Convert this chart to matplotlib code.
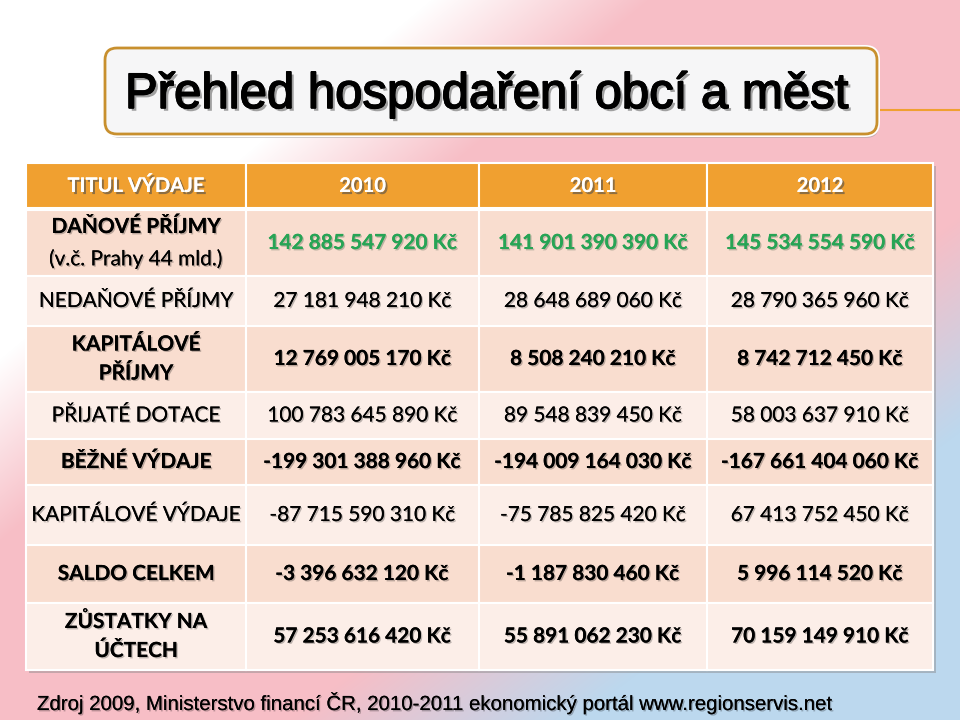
import numpy as np
import matplotlib.pyplot as plt
import matplotlib.patheffects as pe
from matplotlib.patches import Rectangle, FancyBboxPatch, PathPatch
from matplotlib.textpath import TextPath
from matplotlib.font_manager import FontProperties
from matplotlib.transforms import Affine2D

# data
title = 'Přehled hospodaření obcí a měst'
header_label = 'TITUL VÝDAJE'
years = ['2010', '2011', '2012']
row_labels = [
    ['DAŇOVÉ PŘÍJMY', '(v.č. Prahy 44 mld.)'],
    ['NEDAŇOVÉ PŘÍJMY'],
    ['KAPITÁLOVÉ', 'PŘÍJMY'],
    ['PŘIJATÉ DOTACE'],
    ['BĚŽNÉ VÝDAJE'],
    ['KAPITÁLOVÉ VÝDAJE'],
    ['SALDO CELKEM'],
    ['ZŮSTATKY NA', 'ÚČTECH'],
]
values_2010 = [142885547920, 27181948210, 12769005170, 100783645890,
               -199301388960, -87715590310, -3396632120, 57253616420]
values_2011 = [141901390390, 28648689060, 8508240210, 89548839450,
               -194009164030, -75785825420, -1187830460, 55891062230]
values_2012 = [145534554590, 28790365960, 8742712450, 58003637910,
               -167661404060, 67413752450, 5996114520, 70159149910]
source = 'Zdroj 2009, Ministerstvo financí ČR, 2010-2011 ekonomický portál www.regionservis.net'

# styles
bold_rows = [True, False, True, False, True, False, True, True]
label_bold_lines = [[True, False], [False], [True, True], [False], [True], [False], [True], [True, True]]
line_gap = [32, 29, 29, 29, 29, 29, 29, 29]
green_rows = [True, False, False, False, False, False, False, False]
row_edges = [210, 276, 326, 392, 439, 485, 545, 603, 670]
col_edges = [26, 246, 479, 707, 933]
dark_row, light_row = '#F9DDCF', '#FCEEE8'
orange = '#F0A030'
green = '#27A455'
table_font = ['Lato', 'DejaVu Sans']


def fmt(v):
    return f'{v:,}'.replace(',', ' ') + ' Kč'


fig = plt.figure(figsize=(9.6, 7.2), dpi=100)
ax = fig.add_axes([0, 0, 1, 1])
ax.set_xlim(0, 960)
ax.set_ylim(720, 0)
ax.axis('off')

# background gradient
yy, xx = np.mgrid[0:720, 0:960]
s = xx + 1.2 * yy
white_w = np.clip((650 - s) / 220, 0, 1)
u, v = xx / 960, yy / 720
blue_w = np.clip((u + v - 1.3) / 0.3, 0, 1)
pink = np.array([247, 190, 198]) / 255
blue = np.array([188, 216, 238]) / 255
base = pink * (1 - blue_w[..., None]) + blue * blue_w[..., None]
img = base * (1 - white_w[..., None]) + white_w[..., None]
ax.imshow(img, extent=[0, 960, 720, 0], zorder=0)

# orange line behind title (right side)
ax.plot([870, 960], [110, 110], color='#F0A030', lw=1.5, zorder=1)

# title box
ax.add_patch(FancyBboxPatch((107, 52), 772, 86, boxstyle='round,pad=0,rounding_size=13',
                            fc='#999999', ec='none', alpha=0.45, zorder=2))
ax.add_patch(FancyBboxPatch((102, 45), 778, 92, boxstyle='round,pad=0,rounding_size=15',
                            fc='white', ec='none', zorder=3))
ax.add_patch(FancyBboxPatch((105, 48), 772, 86, boxstyle='round,pad=0,rounding_size=12',
                            fc='#F6F6F7', ec='#C8902E', lw=2.0, zorder=4))

# title text as a path, fitted to the box text width
tp = TextPath((0, 0), title, size=50, prop=FontProperties(family='Liberation Sans'))
ext = tp.get_extents()
sx = 719 / ext.width
tr = Affine2D().translate(-ext.x0, 0).scale(sx, -1).translate(129, 108) + ax.transData
ax.add_patch(PathPatch(tp, transform=tr, fc='black', ec='black', lw=0.9, zorder=5,
                       path_effects=[pe.withSimplePatchShadow(offset=(2, -2), alpha=0.35), pe.Normal()]))

# table shadow
ax.add_patch(Rectangle((col_edges[0] + 3, 166), col_edges[-1] - col_edges[0], 507,
                       fc='#888888', ec='none', alpha=0.45, zorder=2))

# header
for j in range(4):
    ax.add_patch(Rectangle((col_edges[j], 163), col_edges[j + 1] - col_edges[j], 45,
                           fc=orange, ec='white', lw=1.5, zorder=3))
ax.add_patch(Rectangle((col_edges[0], 208), col_edges[-1] - col_edges[0], 2,
                       fc='white', ec='none', zorder=3))
hdr_fx = [pe.withSimplePatchShadow(offset=(1.5, -1.5), alpha=0.6), pe.Normal()]
for j, lab in enumerate([header_label] + years):
    cx = (col_edges[j] + col_edges[j + 1]) / 2
    ax.text(cx, 186, lab, ha='center', va='center', fontsize=14.5, weight='bold',
            family=table_font, color='white', zorder=5, path_effects=hdr_fx)

# body
txt_fx = [pe.withSimplePatchShadow(offset=(1, -1), alpha=0.25), pe.Normal()]
cols = [values_2010, values_2011, values_2012]
for i in range(len(row_labels)):
    top, bot = row_edges[i], row_edges[i + 1]
    fc = dark_row if i % 2 == 0 else light_row
    for j in range(4):
        ax.add_patch(Rectangle((col_edges[j], top), col_edges[j + 1] - col_edges[j], bot - top,
                               fc=fc, ec='white', lw=1.5, zorder=3))
    cy = (top + bot) / 2
    lines = row_labels[i]
    n = len(lines)
    for k, line in enumerate(lines):
        ly = cy + (k - (n - 1) / 2) * line_gap[i]
        ax.text((col_edges[0] + col_edges[1]) / 2, ly, line, ha='center', va='center',
                fontsize=15, weight='bold' if label_bold_lines[i][k] else 'normal',
                family=table_font, color='black', zorder=5, path_effects=txt_fx)
    for j, col in enumerate(cols):
        cx = (col_edges[j + 1] + col_edges[j + 2]) / 2
        ax.text(cx, cy, fmt(col[i]), ha='center', va='center', fontsize=15,
                weight='bold' if bold_rows[i] else 'normal', family=table_font,
                color=green if green_rows[i] else 'black', zorder=5, path_effects=txt_fx)

# footer
ax.text(37, 703, source, ha='left', va='center', fontsize=14.7, family='Liberation Sans',
        color='black', zorder=5, path_effects=txt_fx)

fig.savefig('out.png', dpi=100)
